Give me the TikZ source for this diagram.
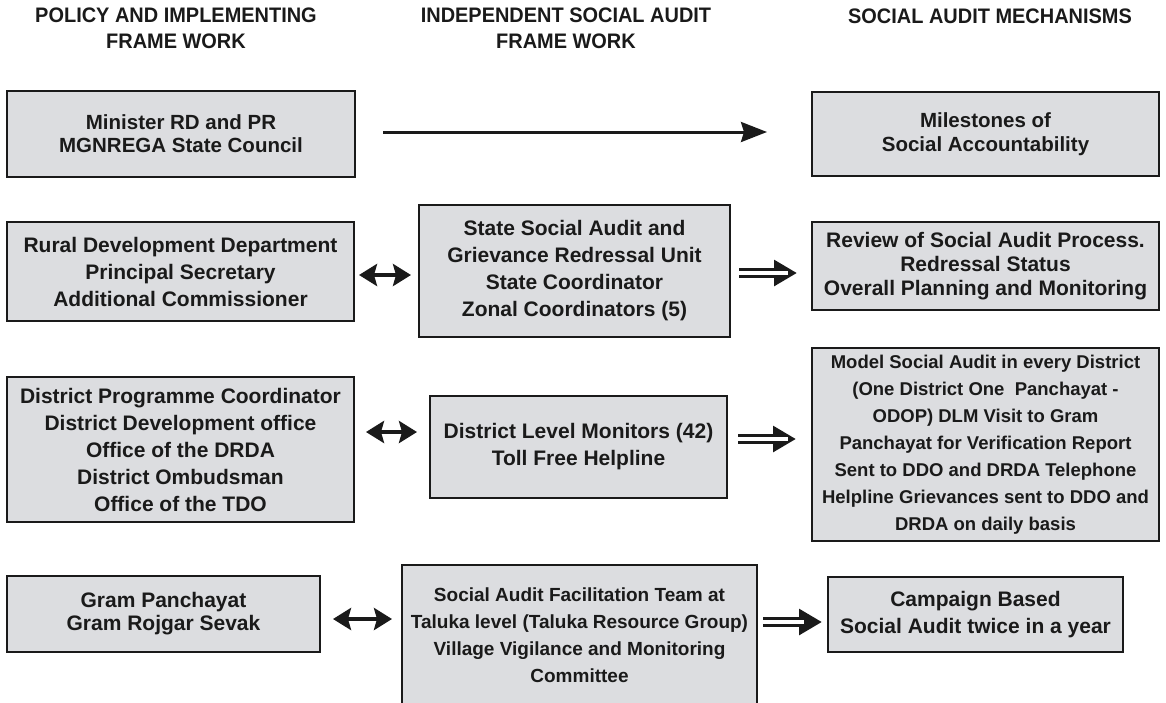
\documentclass[tikz,border=0pt]{standalone}
\usepackage{fontspec}
\setmainfont{Liberation Sans}
\newfontfamily\headfont{Liberation Sans}[FakeStretch=0.95]
\usetikzlibrary{arrows.meta}
\definecolor{boxgray}{RGB}{220,221,224}
\definecolor{inkgray}{RGB}{26,26,26}
\begin{document}
\begin{tikzpicture}[x=1pt, y=-1pt,
  box/.style={draw=inkgray, line width=2pt, fill=boxgray, align=center, inner sep=0pt,
    text=inkgray, font=\bfseries\fontsize{21}{27}\selectfont},
  head/.style={align=center, text=inkgray, font=\headfont\bfseries\fontsize{21}{26}\selectfont},
  oneway/.style={line width=3pt, draw=inkgray, -{Stealth[length=26pt, width=20pt, inset=3pt]}},
  twoway/.style={line width=4pt, draw=inkgray, {Stealth[length=18pt, width=22pt, inset=3pt]}-{Stealth[length=18pt, width=22pt, inset=3pt]}},
  dblway/.style={line width=9.5pt, draw=inkgray, -{Triangle[length=23pt, width=25pt]},
    postaction={draw=white, line width=3.2pt, shorten >=23pt, -}}]
  \useasboundingbox (0,0) rectangle (1166,702);
  \clip (0,0) rectangle (1166,702);

  % Column headers
  \node[head] (hpol) at (176,28) {POLICY AND IMPLEMENTING\\FRAME WORK};
  \node[head] (hind) at (566,28) {INDEPENDENT SOCIAL AUDIT\\FRAME WORK};
  \node[head] (hmec) at (990,16) {SOCIAL AUDIT MECHANISMS};

  % Policy and implementing boxes
  \node[box, minimum width=348, minimum height=86, font=\bfseries\fontsize{20.5}{23}\selectfont] (min) at (181,134)
    {Minister RD and PR\\MGNREGA State Council};
  \node[box, minimum width=347, minimum height=99] (rdd) at (180.5,271.5)
    {Rural Development Department\\Principal Secretary\\Additional Commissioner};
  \node[box, minimum width=347, minimum height=145] (dpc) at (180.5,449.5)
    {District Programme Coordinator\\District Development office\\Office of the DRDA\\District Ombudsman\\Office of the TDO};
  \node[box, minimum width=313, minimum height=76, font=\bfseries\fontsize{21}{23}\selectfont] (gp) at (163.5,614)
    {Gram Panchayat\\Gram Rojgar Sevak};

  % Independent social audit boxes
  \node[box, minimum width=311, minimum height=132] (ssa) at (574.5,271)
    {State Social Audit and\\Grievance Redressal Unit\\State Coordinator\\Zonal Coordinators (5)};
  \node[box, minimum width=297, minimum height=102] (dlm) at (578.5,447)
    {District Level Monitors (42)\\Toll Free Helpline};
  \node[box, minimum width=355, minimum height=140, font=\bfseries\fontsize{19}{27}\selectfont] (saf) at (579.5,635)
    {Social Audit Facilitation Team at\\Taluka level (Taluka Resource Group)\\Village Vigilance and Monitoring\\Committee};

  % Social audit mechanism boxes
  \node[box, minimum width=347, minimum height=84, font=\bfseries\fontsize{20.5}{24}\selectfont] (mil) at (985.5,134)
    {Milestones of\\Social Accountability};
  \node[box, minimum width=347, minimum height=88, font=\bfseries\fontsize{21}{24}\selectfont] (rev) at (985.5,266)
    {Review of Social Audit Process.\\Redressal Status\\Overall Planning and Monitoring};
  \node[box, minimum width=347, minimum height=193, font=\bfseries\fontsize{18.5}{27}\selectfont] (mod) at (985.5,444.5)
    {Model Social Audit in every District\\(One District One\ \ Panchayat -\\ODOP) DLM Visit to Gram\\Panchayat for Verification Report\\Sent to DDO and DRDA Telephone\\Helpline Grievances sent to DDO and\\DRDA on daily basis};
  \node[box, minimum width=295, minimum height=75] (camp) at (975.5,614.5)
    {Campaign Based\\Social Audit twice in a year};

  % Connectors
  \draw[oneway, shorten <=27pt, shorten >=44pt] ([yshift=2]min.east) -- ([yshift=2]min.east -| mil.west);
  \draw[twoway, shorten <=4pt, shorten >=7pt] ([yshift=-3.5]rdd.east) -- ([yshift=-3.5]rdd.east -| ssa.west);
  \draw[dblway, shorten <=8pt, shorten >=14pt] ([yshift=-2]ssa.east) -- ([yshift=-2]ssa.east -| rev.west);
  \draw[twoway, shorten <=11pt, shorten >=12pt] ([yshift=15]dlm.west -| dpc.east) -- ([yshift=15]dlm.west);
  \draw[dblway, shorten <=10pt, shorten >=15pt] ([yshift=8]dlm.east) -- ([yshift=8]dlm.east -| mod.west);
  \draw[twoway, shorten <=12pt, shorten >=9pt] ([yshift=-5]gp.east) -- ([yshift=-5]gp.east -| saf.west);
  \draw[dblway, shorten <=5pt, shorten >=5pt] ([yshift=-7.5]camp.west -| saf.east) -- ([yshift=-7.5]camp.west);
\end{tikzpicture}
\end{document}
